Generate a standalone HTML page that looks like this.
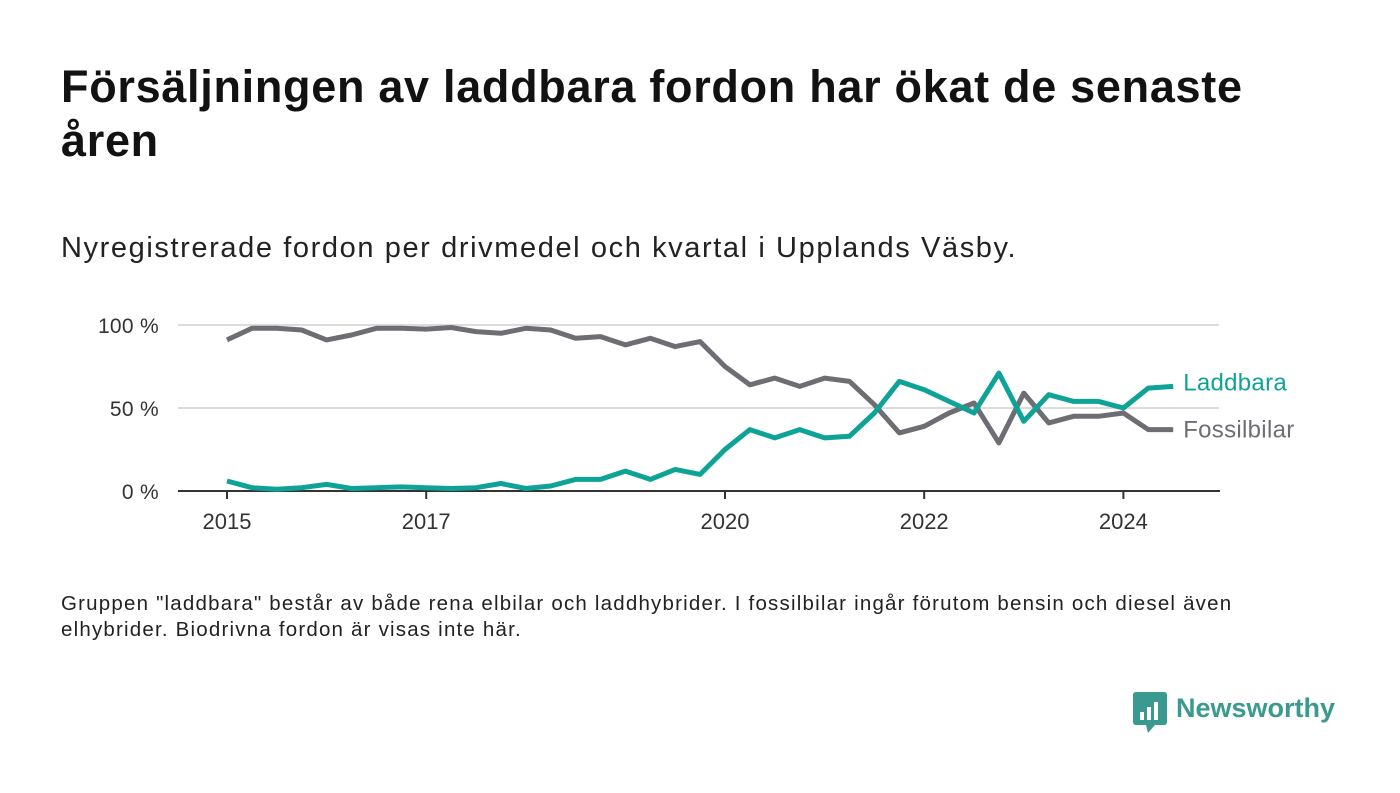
<!DOCTYPE html>
<html><head><meta charset="utf-8"><style>
body{margin:0;width:1400px;height:793px;background:#fff;font-family:"Liberation Sans",sans-serif;color:#111;position:relative;overflow:hidden}
h1{position:absolute;left:61px;top:60px;margin:0;font-size:45px;line-height:54px;font-weight:bold;width:1240px;color:#121212;letter-spacing:0.7px}
.sub{position:absolute;left:61px;top:232px;font-size:29px;color:#222;letter-spacing:1.6px;white-space:nowrap}
.foot{position:absolute;left:61px;top:591px;font-size:20.5px;line-height:26px;color:#222;width:1262px;letter-spacing:1.2px}
svg{position:absolute;left:0;top:0}
</style></head><body>
<h1>Försäljningen av laddbara fordon har ökat de senaste åren</h1>
<div class="sub">Nyregistrerade fordon per drivmedel och kvartal i Upplands Väsby.</div>
<svg id="chart" width="1400" height="793"></svg>
<div class="foot">Gruppen "laddbara" består av både rena elbilar och laddhybrider. I fossilbilar ingår förutom bensin och diesel även elhybrider. Biodrivna fordon är visas inte här.</div>
<div style="position:absolute;left:1133px;top:692px;display:flex;align-items:center">
<svg width="34" height="42" style="position:static"><path d="M0 3 Q0 0 3 0 H31 Q34 0 34 3 V30 Q34 33 31 33 H22 L15 41 L13 33 H3 Q0 33 0 30Z" fill="#3b9a8f"/><rect x="7" y="20" width="4" height="8" fill="#fff"/><rect x="14" y="15" width="4" height="13" fill="#fff"/><rect x="21" y="10" width="4" height="18" fill="#fff"/></svg>
<span style="font-size:27px;font-weight:bold;color:#3b9a8f;margin-left:9px;margin-top:-10px">Newsworthy</span></div>
<script>
const years=[2015,2017,2020,2022,2024];
const yTicks=[0,50,100];
const yTickLabels=["0 %","50 %","100 %"];
const laddbara=[6,2,1,2,4,1.5,2,2.5,2,1.5,2,4.5,1.5,3,7,7,12,7,13,10,25,37,32,37,32,33,47,66,61,54,47,71,42,58,54,54,50,62,63];
const fossil=[91,98,98,97,91,94,98,98,97.5,98.5,96,95,98,97,92,93,88,92,87,90,75,64,68,63,68,66,52,35,39,47,53,29,59,41,45,45,47,37,37];
const startYear=2015;
const ns="http://www.w3.org/2000/svg";
const svg=document.getElementById('chart');
const X=t=>227+(t-startYear)*99.6;
const Y=v=>491-v*1.66;
function mk(tag,attrs){const e=document.createElementNS(ns,tag);for(const k in attrs)e.setAttribute(k,attrs[k]);svg.appendChild(e);return e;}
yTicks.forEach((v,i)=>{
 if(v>0){const g=mk('line',{x1:178,x2:1219,y1:Y(v),y2:Y(v),stroke:'#dcdcdc','stroke-width':2});
 
 }
 const t=mk('text',{x:159,y:Y(v)+8,'text-anchor':'end','font-size':21,fill:'#333','font-family':'Liberation Sans','letter-spacing':0.3});
 t.textContent=yTickLabels[i];
 
 
});
const ax=mk('line',{x1:178,x2:1220,y1:491,y2:491,stroke:'#333','stroke-width':2});


years.forEach(yr=>{
 const tk=mk('line',{x1:X(yr),x2:X(yr),y1:491,y2:499,stroke:'#333','stroke-width':2});
 
 
 const t=mk('text',{x:X(yr),y:529,'text-anchor':'middle','font-size':22,fill:'#333','font-family':'Liberation Sans'});
 t.textContent=yr;
 
 
});
function line(data,color,name,label,dy){
 const d=data.map((v,i)=>(i?'L':'M')+X(startYear+i/4).toFixed(1)+' '+Y(v).toFixed(1)).join(' ');
 const p=mk('path',{d:d,fill:'none',stroke:color,'stroke-width':5,'stroke-linejoin':'round'});
 
 
 const last=data.length-1;
 const t=mk('text',{x:X(startYear+last/4)+10,y:Y(data[last])+dy,'font-size':24,fill:color,'font-family':'Liberation Sans','letter-spacing':0.3});
 t.textContent=label;
 
 
}
line(fossil,'#6e6d73','fossilbilar-line','Fossilbilar',8);
line(laddbara,'#0ea396','laddbara-line','Laddbara',4);
</script>
</body></html>
